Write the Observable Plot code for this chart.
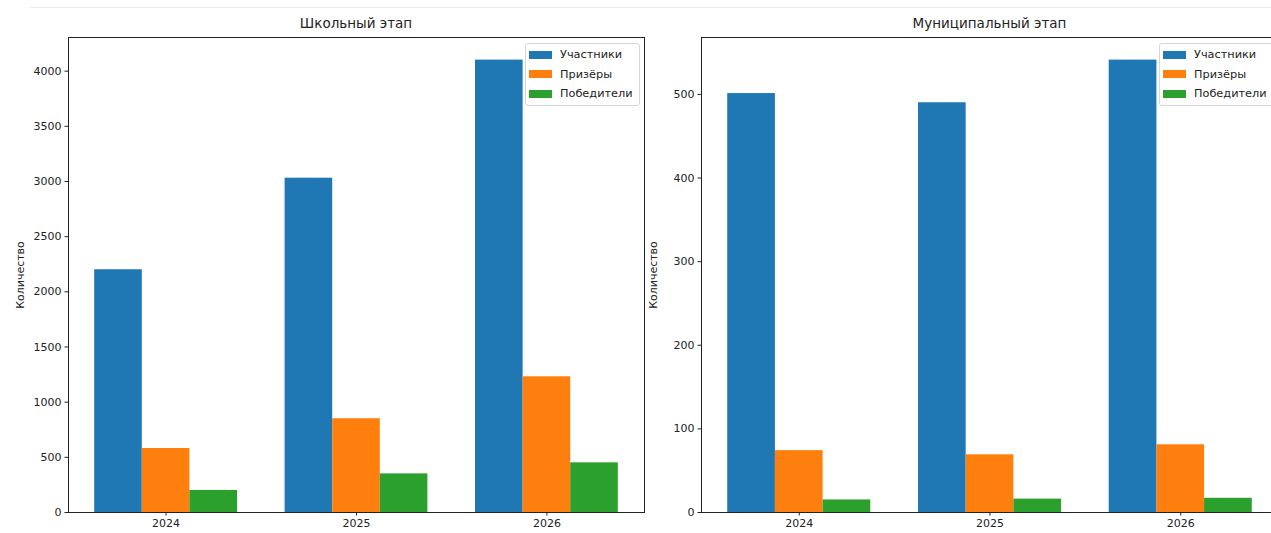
<!DOCTYPE html>
<html>
<head>
<meta charset="utf-8">
<script src="https://cdn.jsdelivr.net/npm/d3@7"></script>
<script src="https://cdn.jsdelivr.net/npm/@observablehq/plot@0.6"></script>
<style>
  html, body { margin: 0; padding: 0; background: #fff; }
  #root { position: relative; width: 1271px; height: 533px; overflow: hidden; font-family: "DejaVu Sans", sans-serif; color: #222; }
  .topline { position: absolute; left: 30px; right: 0; top: 7px; height: 1px; background: #ebebeb; }
  .panel { position: absolute; top: 0; width: 660px; height: 533px; }
  .panel svg { max-width: none !important; width: 660px; height: 533px; display: block; }
  .title { position: absolute; top: 15px; font-size: 13.5px; white-space: nowrap; transform: translateX(-50%); }
  .legend { position: absolute; top: 43px; border: 1px solid #d6d6d6; border-radius: 3px; background: rgba(255,255,255,0.85); padding: 1px 6px 1px 3px; font-size: 11.3px; }
  .legend .row { display: flex; align-items: center; height: 19.5px; }
  .legend .sw { width: 23px; height: 8px; margin-right: 8px; }
</style>
</head>
<body>
<div id="root"><div class="topline"></div></div>
<script>
// ---- data ----
const years = ["2024", "2025", "2026"];
const series = ["Участники", "Призёры", "Победители"];
const colors = ["#1f77b4", "#ff7f0e", "#2ca02c"];

const schoolParticipants = [2200, 3030, 4100];
const schoolPrizewinners = [580, 850, 1230];
const schoolWinners = [200, 350, 450];

const muniParticipants = [501, 490, 541];
const muniPrizewinners = [74, 69, 81];
const muniWinners = [15, 16, 17];

const schoolTicks = [0, 500, 1000, 1500, 2000, 2500, 3000, 3500, 4000];
const muniTicks = [0, 100, 200, 300, 400, 500];

const titles = ["Школьный этап", "Муниципальный этап"];
const yLabel = "Количество";

// ---- build ----
const barW = 0.25;
function rows(vals) {
  return years.flatMap((yr, i) => series.map((s, j) => ({ year: yr, i, series: s, j, value: vals[j][i] })));
}
const lo = -1.5 * barW, hi = (years.length - 1) + 1.5 * barW, pad = (hi - lo) * 0.05;

function chart(data, ticks, ml, mr) {
  const maxV = d3.max(data, d => d.value);
  return Plot.plot({
    width: 660, height: 533,
    marginLeft: ml, marginRight: mr, marginTop: 37, marginBottom: 21,
    style: { fontFamily: "DejaVu Sans", fontSize: "11px", color: "#222", background: "transparent", overflow: "visible" },
    x: { type: "linear", domain: [lo - pad, hi + pad], ticks: years.map((_, i) => i), tickFormat: i => years[i], tickSize: 3.5, tickPadding: 3, label: null },
    y: { domain: [0, maxV * 1.05], ticks: ticks, tickFormat: d => String(d), tickSize: 3.5, tickPadding: 3.5, label: yLabel, labelAnchor: "center", labelOffset: 52, labelArrow: "none" },
    color: { domain: series, range: colors },
    marks: [
      Plot.rectY(data, {
        x1: d => d.i + (d.j - 1) * barW - barW / 2,
        x2: d => d.i + (d.j - 1) * barW + barW / 2,
        y1: 0, y2: "value", fill: "series"
      }),
      Plot.frame({ stroke: "#222", strokeWidth: 1 })
    ]
  });
}

const root = document.getElementById("root");
const panels = [
  { left: 0, data: rows([schoolParticipants, schoolPrizewinners, schoolWinners]), ticks: schoolTicks, ml: 68, mr: 16 },
  { left: 640, data: rows([muniParticipants, muniPrizewinners, muniWinners]), ticks: muniTicks, ml: 61, mr: 22 }
];
panels.forEach((p, k) => {
  const wrap = document.createElement("div");
  wrap.className = "panel";
  wrap.style.left = p.left + "px";
  wrap.appendChild(chart(p.data, p.ticks, p.ml, p.mr));
  root.appendChild(wrap);

  const fl = p.left + p.ml, fr = p.left + 660 - p.mr;
  const t = document.createElement("div");
  t.className = "title";
  t.style.left = ((fl + fr) / 2) + "px";
  t.textContent = titles[k];
  root.appendChild(t);

  const lg = document.createElement("div");
  lg.className = "legend";
  series.forEach((s, j) => {
    const r = document.createElement("div");
    r.className = "row";
    const sw = document.createElement("div");
    sw.className = "sw";
    sw.style.background = colors[j];
    const tx = document.createElement("span");
    tx.textContent = s;
    r.appendChild(sw); r.appendChild(tx);
    lg.appendChild(r);
  });
  root.appendChild(lg);
  lg.style.left = (fr - 4 - lg.offsetWidth) + "px";
});
</script>
</body>
</html>
